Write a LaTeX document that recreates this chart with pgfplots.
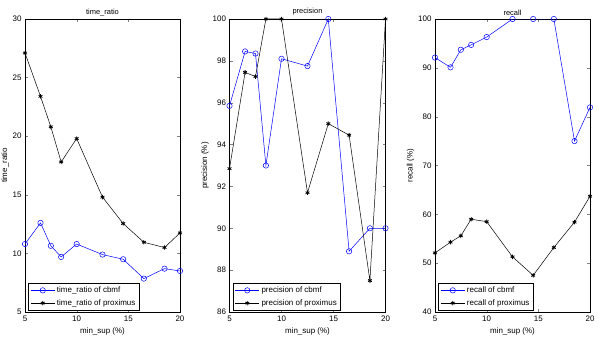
\documentclass[border=0pt]{standalone}
\usepackage{pgfplots}
\pgfplotsset{compat=1.18}
\usepackage{fontspec}
\setmainfont{Liberation Sans}

\pgfplotsset{
  mlab/.style={
    scale only axis,
    width=155bp, height=293bp,
    anchor=south west,
    xmin=5, xmax=20,
    xtick={5,10,15,20},
    tick align=inside,
    tick pos=both,
    major tick length=3bp,
    /pgf/number format/assume math mode=true,
    tick label style={font=\fontsize{8}{9}\selectfont},
    label style={font=\fontsize{8}{9}\selectfont},
    title style={font=\fontsize{7.5}{8}\selectfont, yshift=-6bp},
    xlabel={min\_sup (\%)},
    xlabel style={yshift=0bp},
    ylabel style={yshift=-3bp},
    legend style={font=\fontsize{8}{9}\selectfont, at={(0.022,0.004)}, anchor=south west,
      draw=black, line width=0.6pt, inner sep=1.8pt, row sep=1.5pt, cells={anchor=west}},
    legend image code/.code={
      \draw[mark repeat=2,mark phase=2] plot coordinates {(0bp,0bp) (12bp,0bp) (24bp,0bp)};},
    every axis plot/.append style={line width=0.5pt},
  },
  cb/.style={color=blue, mark=o, mark size=2.7bp, mark options={line width=0.5pt}},
  px/.style={color=black, mark=asterisk, mark size=2.2bp, mark options={line width=0.8pt}},
}

\begin{document}
\begin{tikzpicture}
\useasboundingbox (0,0) rectangle (599bp,342bp);

% time ratio
\begin{axis}[mlab, at={(25bp,30bp)}, ymin=5, ymax=30, ytick={5,10,15,20,25,30},
  title={time\_ratio}, ylabel={time\_ratio}]
\addplot[cb] coordinates {(5,10.8) (6.5,12.6) (7.5,10.65) (8.5,9.7) (10,10.8) (12.5,9.9) (14.5,9.5) (16.5,7.85) (18.5,8.7) (20,8.5)};
\addlegendentry{time\_ratio of cbmf}
\addplot[px] coordinates {(5,27.1) (6.5,23.4) (7.5,20.8) (8.5,17.8) (10,19.8) (12.5,14.8) (14.5,12.55) (16.5,10.95) (18.5,10.5) (20,11.75)};
\addlegendentry{time\_ratio of proximus}
\end{axis}

% precision
\begin{axis}[mlab, at={(229.5bp,30bp)}, width=156bp, ymin=86, ymax=100, ytick={86,88,...,100},
  title={precision}, ylabel={precision (\%)}]
\addplot[cb] coordinates {(5,95.85) (6.5,98.45) (7.5,98.35) (8.5,93.0) (10,98.1) (12.5,97.75) (14.5,100) (16.5,88.9) (18.5,90) (20,90)};
\addlegendentry{precision of cbmf}
\addplot[px] coordinates {(5,92.85) (6.5,97.45) (7.5,97.25) (8.5,100) (10,100) (12.5,91.7) (14.5,95.0) (16.5,94.45) (18.5,87.5) (20,100)};
\addlegendentry{precision of proximus}
\end{axis}

% recall
\begin{axis}[mlab, at={(435bp,30bp)}, ymin=40, ymax=100, ytick={40,50,...,100},
  title={recall}, ylabel={recall (\%)}]
\addplot[cb] coordinates {(5,92.1) (6.5,90.1) (7.5,93.7) (8.5,94.7) (10,96.3) (12.5,100) (14.5,100) (16.5,100) (18.5,75.0) (20,81.9)};
\addlegendentry{recall of cbmf}
\addplot[px] coordinates {(5,52.1) (6.5,54.3) (7.5,55.6) (8.5,59.0) (10,58.5) (12.5,51.3) (14.5,47.5) (16.5,53.2) (18.5,58.4) (20,63.7)};
\addlegendentry{recall of proximus}
\end{axis}
\end{tikzpicture}
\end{document}
